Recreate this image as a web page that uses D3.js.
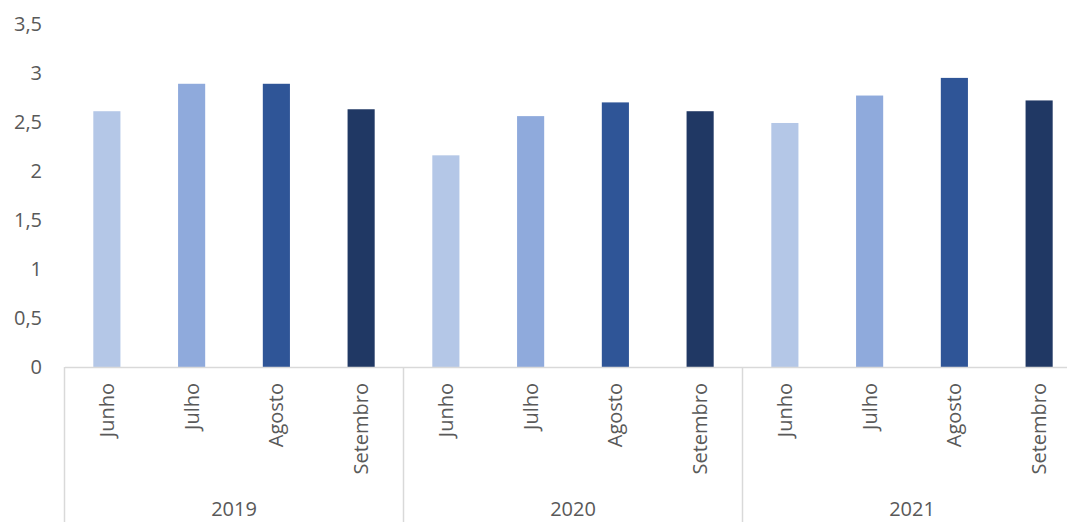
<!DOCTYPE html>
<html>
<head>
<meta charset="utf-8">
<script src="https://cdn.jsdelivr.net/npm/d3@7"></script>
<style>
  html, body { margin: 0; padding: 0; background: #fff; }
  svg { display: block; }
  text { font-family: "Open Sans", "Liberation Sans", Arial, sans-serif; fill: #595959; }
</style>
</head>
<body>
<svg id="chart" width="1067" height="522"></svg>
<script>
const years = ["2019", "2020", "2021"];
const months = ["Junho", "Julho", "Agosto", "Setembro"];
const values2019 = [2.61, 2.89, 2.89, 2.63];
const values2020 = [2.16, 2.56, 2.70, 2.61];
const values2021 = [2.49, 2.77, 2.95, 2.72];
const yTicks = [0, 0.5, 1, 1.5, 2, 2.5, 3, 3.5];
const monthColors = ["#B4C7E7", "#8FAADC", "#2F5597", "#203864"];

const seriesByYear = [values2019, values2020, values2021];
const data = [];
years.forEach((yr, yi) => {
  months.forEach((m, mi) => {
    data.push({ key: yr + "-" + m, year: yr, month: m, mi: mi, value: seriesByYear[yi][mi] });
  });
});

const FONT = "'Open Sans', 'Liberation Sans', Arial, sans-serif";
const svg = d3.select("#chart");
const plotLeft = 64.5, plotRight = 1081.5, plotTop = 24, plotBottom = 367;

const x = d3.scaleBand()
  .domain(data.map(d => d.key))
  .range([plotLeft, plotRight])
  .paddingInner(0.68)
  .paddingOuter(0.34);

const xYear = d3.scaleBand()
  .domain(years)
  .range([plotLeft, plotRight])
  .padding(0);

const y = d3.scaleLinear().domain([0, 3.5]).range([plotBottom, plotTop]);

const loc = d3.formatLocale({ decimal: ",", thousands: ".", grouping: [3], currency: ["R$", ""] });
const fmt = loc.format("~g");

// Y axis (labels only)
const yAxis = svg.append("g")
  .attr("transform", `translate(45,0)`)
  .call(d3.axisLeft(y).tickValues(yTicks).tickSize(0).tickPadding(3).tickFormat(fmt));
yAxis.select(".domain").remove();
yAxis.selectAll("text")
  .style("font-size", "20px")
  .style("fill", "#595959")
  .style("font-family", FONT);

// Bars
svg.append("g")
  .selectAll("rect")
  .data(data)
  .join("rect")
  .attr("x", d => x(d.key))
  .attr("width", x.bandwidth())
  .attr("y", d => y(d.value))
  .attr("height", d => y(0) - y(d.value))
  .attr("fill", d => monthColors[d.mi]);

// X axis
const xAxis = svg.append("g")
  .attr("transform", `translate(0,${plotBottom})`)
  .call(d3.axisBottom(x).tickSize(0).tickSizeOuter(0).tickFormat(k => k.split("-")[1]));
xAxis.select(".domain")
  .attr("stroke", "#d9d9d9")
  .attr("stroke-width", 1.5);
xAxis.selectAll(".tick text")
  .attr("transform", "rotate(-90)")
  .attr("text-anchor", "end")
  .attr("x", -16)
  .attr("y", 0)
  .attr("dy", "0.35em")
  .style("font-size", "20px")
  .style("fill", "#595959")
  .style("font-family", FONT);

// Group separators
const seps = years.map(yr => xYear(yr)).concat([xYear(years[years.length - 1]) + xYear.bandwidth()]);
svg.append("g")
  .selectAll("line")
  .data(seps)
  .join("line")
  .attr("x1", d => d).attr("x2", d => d)
  .attr("y1", plotBottom).attr("y2", 522)
  .attr("stroke", "#d9d9d9")
  .attr("stroke-width", 1.5);

// Year labels
svg.append("g")
  .selectAll("text")
  .data(years)
  .join("text")
  .attr("x", d => xYear(d) + xYear.bandwidth() / 2)
  .attr("y", 516)
  .attr("text-anchor", "middle")
  .style("font-size", "20px")
  .style("font-family", FONT)
  .text(d => d);
</script>
</body>
</html>
